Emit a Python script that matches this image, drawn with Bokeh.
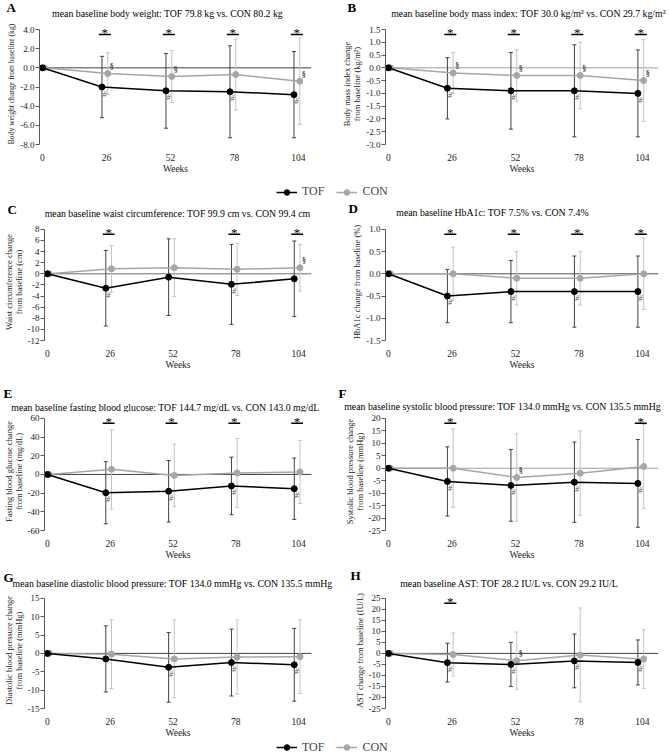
from bokeh.plotting import figure
from bokeh.models import (Range1d, FixedTicker, NumeralTickFormatter, Span, Whisker, TeeHead,
                          ColumnDataSource, Label, Legend, LegendItem)
from bokeh.layouts import column, row
from bokeh.embed import file_html
from bokeh.resources import INLINE
from bokeh.core.properties import value

# ---------------- data ----------------
weeks = [0, 26, 52, 78, 104]
week_labels = ["0", "26", "52", "78", "104"]

a_tof_mean = [0, -2.0, -2.4, -2.5, -2.8]
a_tof_sd = [0, 3.2, 3.9, 4.8, 4.5]
a_con_mean = [0, -0.6, -0.9, -0.7, -1.4]
a_con_sd = [0, 2.2, 2.7, 3.7, 4.5]

b_tof_mean = [0, -0.8, -0.9, -0.9, -1.0]
b_tof_sd = [0, 1.2, 1.5, 1.8, 1.7]
b_con_mean = [0, -0.2, -0.3, -0.3, -0.5]
b_con_sd = [0, 0.8, 1.0, 1.3, 1.6]

c_tof_mean = [0, -2.6, -0.6, -1.9, -0.9]
c_tof_sd = [0, 6.8, 6.9, 7.2, 6.8]
c_con_mean = [0, 0.9, 1.1, 0.8, 1.1]
c_con_sd = [0, 4.2, 5.2, 4.7, 4.2]

d_tof_mean = [0, -0.5, -0.4, -0.4, -0.4]
d_tof_sd = [0, 0.6, 0.7, 0.8, 0.8]
d_con_mean = [0, 0.0, -0.1, -0.1, 0.0]
d_con_sd = [0, 0.6, 0.6, 0.6, 0.8]

e_tof_mean = [0, -19.6, -18.0, -12.3, -15.3]
e_tof_sd = [0, 33.2, 33.0, 30.8, 32.8]
e_con_mean = [0, 5.5, -1.0, 1.5, 2.7]
e_con_sd = [0, 42.5, 33.5, 37.0, 33.8]

f_tof_mean = [0, -5.3, -6.9, -5.6, -6.1]
f_tof_sd = [0, 13.9, 14.4, 16.1, 17.6]
f_con_mean = [0, 0.0, -3.7, -2.0, 0.7]
f_con_sd = [0, 15.7, 17.5, 17.0, 16.9]

g_tof_mean = [0, -1.5, -3.8, -2.5, -3.1]
g_tof_sd = [0, 9.0, 9.5, 9.1, 9.9]
g_con_mean = [0, -0.2, -1.5, -1.0, -0.9]
g_con_sd = [0, 9.4, 10.6, 10.1, 10.0]

h_tof_mean = [0, -4.2, -5.0, -3.4, -4.1]
h_tof_sd = [0, 8.8, 10.0, 12.2, 10.2]
h_con_mean = [0, -0.5, -3.3, -0.7, -2.6]
h_con_sd = [0, 9.75, 13.0, 21.3, 13.3]

# significance markers (weeks)
a_star, a_sect, a_hash = [26, 52, 78, 104], [26, 52, 104], [26, 52, 78, 104]
b_star, b_sect, b_hash = [26, 52, 78, 104], [26, 52, 78, 104], [26, 52, 78, 104]
c_star, c_sect, c_hash = [26, 78, 104], [104], [26, 78]
d_star, d_sect, d_hash = [26, 52, 78, 104], [], [26, 52, 78, 104]
e_star, e_sect, e_hash = [26, 52, 78, 104], [], [26, 52, 78, 104]
f_star, f_sect, f_hash = [26, 104], [52], [26, 52, 78, 104]
g_star, g_sect, g_hash = [], [], [52, 78, 104]
h_star, h_sect, h_hash = [26], [52], [26, 52, 78, 104]

titles = [
    "mean baseline body weight: TOF 79.8 kg vs. CON 80.2 kg",
    "mean baseline body mass index: TOF 30.0 kg/m\u00b2 vs. CON 29.7 kg/m\u00b2",
    "mean baseline waist circumference: TOF 99.9 cm vs. CON 99.4 cm",
    "mean baseline HbA1c: TOF 7.5% vs. CON 7.4%",
    "mean baseline fasting blood glucose: TOF 144.7 mg/dL vs. CON 143.0 mg/dL",
    "mean baseline systolic blood pressure: TOF 134.0 mmHg vs. CON 135.5 mmHg",
    "mean baseline diastolic blood pressure: TOF 134.0 mmHg vs. CON 135.5 mmHg",
    "mean baseline AST: TOF 28.2 IU/L vs. CON 29.2 IU/L",
]
ylabels = [
    "Body weight change from baseline (kg)",
    "Body mass index change\nfrom baseline (kg/m\u00b2)",
    "Waist circumference change\nfrom baseline (cm)",
    "HbA1c change from baseline (%)",
    "Fasting blood glucose change\nfrom baseline (mg/dL)",
    "Systolic blood pressure change\nfrom baseline (mmHg)",
    "Diastolic blood pressure change\nfrom baseline (mmHg)",
    "AST change from baseline (IU/L)",
]
letters = ["A", "B", "C", "D", "E", "F", "G", "H"]
series_names = ["TOF", "CON"]

# ---------------- style ----------------
FONT = "Liberation Serif"
TOF_COLOR = "#000000"
CON_COLOR = "#a6a6a6"
TOF_BAR = "#404040"
CON_BAR = "#c4c4c4"
X_START = -1.2

cols = [dict(width=335, left=39, right=24, x_end=109.3),
        dict(width=334, left=50, right=11, x_end=110.6)]
# head = header strip height (titles), height = plot height below it
rows = [dict(head=23, height=159, bottom=38),
        dict(head=21, height=149, bottom=29),
        dict(head=40, height=150, bottom=30),
        dict(head=30, height=148, bottom=28)]

specs = [
    dict(tm=a_tof_mean, ts=a_tof_sd, cm=a_con_mean, cs=a_con_sd, star=a_star, sect=a_sect, hsh=a_hash,
         ymin=-8, ymax=4, step=2, fmt="0.0", zc="#404040", lx=6, ly=7, tx=167, ty=13, yl="7.6px"),
    dict(tm=b_tof_mean, ts=b_tof_sd, cm=b_con_mean, cs=b_con_sd, star=b_star, sect=b_sect, hsh=b_hash,
         ymin=-3, ymax=1.5, step=0.5, fmt="0.0", zc="#a0a0a0", lx=12, ly=7, tx=193, ty=13, yl="8.5px"),
    dict(tm=c_tof_mean, ts=c_tof_sd, cm=c_con_mean, cs=c_con_sd, star=c_star, sect=c_sect, hsh=c_hash,
         ymin=-12, ymax=8, step=2, fmt="0", zc="#707070", lx=7, ly=7, tx=177, ty=11, yl="8.5px"),
    dict(tm=d_tof_mean, ts=d_tof_sd, cm=d_con_mean, cs=d_con_sd, star=d_star, sect=d_sect, hsh=d_hash,
         ymin=-1.5, ymax=1.0, step=0.5, fmt="0.0", zc="#505050", lx=13, ly=6, tx=157, ty=10, yl="8.5px"),
    dict(tm=e_tof_mean, ts=e_tof_sd, cm=e_con_mean, cs=e_con_sd, star=e_star, sect=e_sect, hsh=e_hash,
         ymin=-60, ymax=60, step=20, fmt="0", zc="#404040", lx=3, ly=21, tx=165, ty=35, yl="8.5px"),
    dict(tm=f_tof_mean, ts=f_tof_sd, cm=f_con_mean, cs=f_con_sd, star=f_star, sect=f_sect, hsh=f_hash,
         ymin=-25, ymax=20, step=5, fmt="0", zc="#a0a0a0", lx=3, ly=21, tx=167, ty=34, yl="8.5px"),
    dict(tm=g_tof_mean, ts=g_tof_sd, cm=g_con_mean, cs=g_con_sd, star=g_star, sect=g_sect, hsh=g_hash,
         ymin=-15, ymax=15, step=5, fmt="0", zc="#404040", lx=3, ly=15, tx=172, ty=21, yl="8.5px"),
    dict(tm=h_tof_mean, ts=h_tof_sd, cm=h_con_mean, cs=h_con_sd, star=h_star, sect=h_sect, hsh=h_hash,
         ymin=-25, ymax=25, step=5, fmt="0", zc="#404040", lx=15, ly=13, tx=174, ty=21, yl="8.5px"),
]


def blank_fig(w, h):
    p = figure(width=w, height=h, x_range=Range1d(0, 1), y_range=Range1d(0, 1),
               output_backend="svg", toolbar_location=None, min_border=0,
               outline_line_color=None, x_axis_location=None, y_axis_location=None,
               background_fill_color="white", border_fill_color="white")
    p.grid.visible = False
    return p


def make_header(i):
    s = specs[i]
    cc = cols[i % 2]
    rc = rows[i // 2]
    p = blank_fig(cc["width"], rc["head"])
    p.add_layout(Label(x=s["lx"], y=s["ly"], x_units="canvas", y_units="canvas", text=letters[i],
                       text_font=FONT, text_font_size="13px", text_font_style="bold",
                       text_align="left", text_baseline="middle", text_color="#000000"))
    p.add_layout(Label(x=s["tx"], y=s["ty"], x_units="canvas", y_units="canvas", text=titles[i],
                       text_font=FONT, text_font_size="9.8px", text_align="center",
                       text_baseline="middle", text_color="#000000"))
    return p


def make_panel(i):
    s = specs[i]
    cc = cols[i % 2]
    rc = rows[i // 2]
    ymin, ymax = s["ymin"], s["ymax"]
    span_px = rc["height"] - rc["bottom"] - 6
    ppu = span_px / (ymax - ymin)
    pad = 6 / ppu
    fw = cc["width"] - cc["left"] - cc["right"]
    ppw = fw / (cc["x_end"] - X_START)

    p = figure(width=cc["width"], height=rc["height"],
               x_range=Range1d(X_START, cc["x_end"]), y_range=Range1d(ymin, ymax + pad),
               output_backend="svg", toolbar_location=None,
               min_border_left=cc["left"], min_border_right=cc["right"],
               min_border_top=0, min_border_bottom=rc["bottom"],
               outline_line_color=None, background_fill_color="white", border_fill_color="white")
    p.grid.visible = False

    # y axis
    n = int(round((ymax - ymin) / s["step"]))
    yt = [round(ymin + k * s["step"], 6) for k in range(n + 1)]
    ya = p.yaxis[0]
    ya.ticker = FixedTicker(ticks=yt)
    ya.formatter = NumeralTickFormatter(format=s["fmt"])
    ya.bounds = (ymin, ymax)
    ya.axis_line_color = "#595959"
    ya.major_tick_line_color = "#595959"
    ya.major_tick_out = 4
    ya.major_tick_in = 0
    ya.minor_tick_line_color = None
    ya.major_label_text_font = FONT
    ya.major_label_text_font_size = "9px"
    ya.major_label_text_color = "#222222"
    ya.major_label_standoff = 1
    ya.axis_label = ylabels[i]
    ya.axis_label_text_font = FONT
    ya.axis_label_text_font_size = s["yl"]
    ya.axis_label_text_font_style = "normal"
    ya.axis_label_text_color = "#222222"
    ya.axis_label_standoff = 1
    ya.axis_label_text_line_height = 1.0

    # x axis
    xa = p.xaxis[0]
    xa.ticker = FixedTicker(ticks=weeks)
    xa.major_label_overrides = {w: l for w, l in zip(weeks, week_labels)}
    xa.axis_line_color = None
    xa.major_tick_line_color = None
    xa.minor_tick_line_color = None
    xa.major_label_text_font = FONT
    xa.major_label_text_font_size = "9.5px"
    xa.major_label_text_color = "#222222"
    xa.major_label_standoff = 3
    xa.axis_label = "Weeks"
    xa.axis_label_text_font = FONT
    xa.axis_label_text_font_size = "9.5px"
    xa.axis_label_text_font_style = "normal"
    xa.axis_label_text_color = "#222222"
    xa.axis_label_standoff = 0

    p.add_layout(Span(location=0, dimension="width", line_color=s["zc"], line_width=1, level="underlay"))

    tof_dx = -4.5 / ppw
    con_dx = 1.3 / ppw
    xt = [w + (tof_dx if w > 0 else 0) for w in weeks]
    xc = [w + (con_dx if w > 0 else 2.0 / ppw) for w in weeks]

    # error bars (mean +/- SD)
    for xs, m, sd, col in ((xc, s["cm"], s["cs"], CON_BAR), (xt, s["tm"], s["ts"], TOF_BAR)):
        src = ColumnDataSource(dict(x=xs[1:], up=[a + b for a, b in zip(m[1:], sd[1:])],
                                    lo=[a - b for a, b in zip(m[1:], sd[1:])]))
        wk = Whisker(source=src, base="x", upper="up", lower="lo", line_color=col, line_width=1,
                     upper_head=TeeHead(size=4, line_color=col, line_width=1),
                     lower_head=TeeHead(size=4, line_color=col, line_width=1), level="underlay")
        p.add_layout(wk)

    p.line(xc, s["cm"], line_color=CON_COLOR, line_width=1.5)
    p.scatter(xc, s["cm"], size=6, fill_color=CON_COLOR, line_color=CON_COLOR)
    p.line(xt, s["tm"], line_color=TOF_COLOR, line_width=1.5)
    p.scatter(xt, s["tm"], size=6, fill_color=TOF_COLOR, line_color=TOF_COLOR)

    # significance: * with bar
    if s["star"]:
        mid = (tof_dx + con_dx) / 2
        half = 6 / ppw
        ly = ymax - 5 / ppu
        xs = [w + mid for w in s["star"]]
        p.segment(x0=[x - half for x in xs], y0=[ly] * len(xs), x1=[x + half for x in xs], y1=[ly] * len(xs),
                  line_color="#000000", line_width=1.5)
        p.text(x=xs, y=[ly + 2 / ppu] * len(xs), text=["*"] * len(xs), text_font=value(FONT),
               text_font_size="13px", text_align="center", text_baseline="alphabetic", text_color="#000000")
    # section sign next to CON
    if s["sect"]:
        idx = [weeks.index(w) for w in s["sect"]]
        p.text(x=[xc[k] + 4 / ppw for k in idx], y=[s["cm"][k] + 7 / ppu for k in idx],
               text=["\u00a7"] * len(idx), text_font=value(FONT), text_font_size="8px",
               text_font_style="bold", text_align="center", text_baseline="middle", text_color="#404040")
    # hash below TOF
    if s["hsh"]:
        idx = [weeks.index(w) for w in s["hsh"]]
        p.text(x=[xt[k] + 2.5 / ppw for k in idx], y=[s["tm"][k] - 7 / ppu for k in idx],
               text=["#"] * len(idx), text_font=value(FONT), text_font_size="8px",
               text_font_style="italic", text_align="center", text_baseline="middle", text_color="#595959")
    return p


def legend_fig(h):
    p = blank_fig(669, h)
    items = []
    for name, col in zip(series_names, (TOF_COLOR, CON_COLOR)):
        src = ColumnDataSource(dict(x=[float("nan")], y=[float("nan")]))
        l = p.line("x", "y", source=src, line_color=col, line_width=1.5)
        m = p.scatter("x", "y", source=src, size=6, fill_color=col, line_color=col)
        items.append(LegendItem(label=name, renderers=[l, m]))
    leg = Legend(items=items, orientation="horizontal", location=(276, (h - 14) / 2),
                 border_line_color=None,
                 background_fill_alpha=0, label_text_font=FONT, label_text_font_size="12px",
                 glyph_width=21, glyph_height=14, label_height=14, label_standoff=5, spacing=12,
                 padding=0, margin=0)
    p.add_layout(leg, "center")
    return p


headers = [make_header(i) for i in range(8)]
panels = [make_panel(i) for i in range(8)]
blocks = []
for r in range(4):
    blocks.append(row(headers[2 * r], headers[2 * r + 1]))
    blocks.append(row(panels[2 * r], panels[2 * r + 1]))
    if r == 0:
        blocks.append(legend_fig(20))
blocks.append(legend_fig(15))
layout = column(*blocks)

open("out.html", "w").write(file_html(layout, INLINE))
